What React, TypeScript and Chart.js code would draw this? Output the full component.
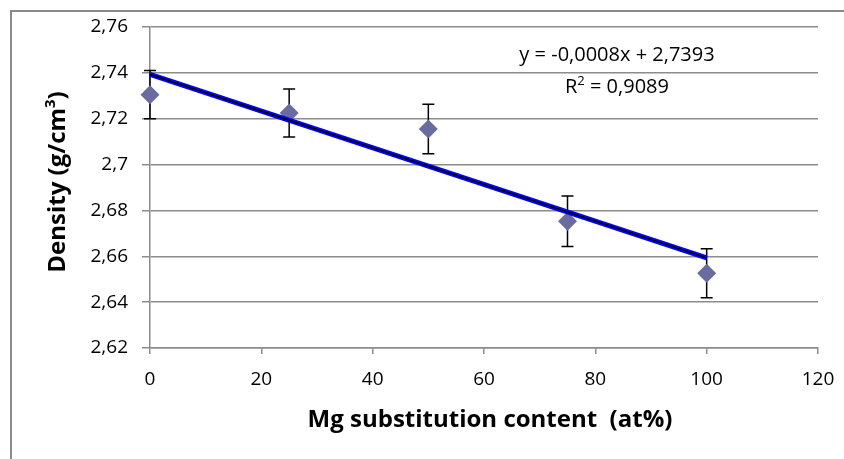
import { useEffect, useRef } from "react";
import { Chart, registerables } from "chart.js";

Chart.register(...registerables);

// Measured density versus Mg substitution level
const mgContent = [0, 25, 50, 75, 100];
const density = [2.7305, 2.7225, 2.7155, 2.6753, 2.6526];
const densityError = [0.0105, 0.0105, 0.0108, 0.011, 0.0107];

// Linear trendline y = a·x + b
const trendSlope = -0.0008;
const trendIntercept = 2.7393;
const trendRange = [0, 100];

const xTickValues = [0, 20, 40, 60, 80, 100, 120];
const yTickValues = [2.62, 2.64, 2.66, 2.68, 2.7, 2.72, 2.74, 2.76];

const equationLabel = "y = -0,0008x + 2,7393";
const rSquaredValue = "0,9089";
const xTitle = "Mg substitution content  (at%)";
const yTitleMain = "Density (g/cm";

const FONT = '"Open Sans", sans-serif';
const GRID = "#8c8c8c";
const MARKER = "#6a6c9f";

const fmt = (v: number) => String(Number(v.toFixed(2))).replace(".", ",");

const errorBars = {
  id: "errorBars",
  beforeDatasetsDraw(chart: any) {
    const { ctx, scales } = chart;
    const x = scales.x;
    const y = scales.y;
    ctx.save();
    ctx.strokeStyle = "#000";
    ctx.lineWidth = 1.5;
    mgContent.forEach((m, i) => {
      const px = x.getPixelForValue(m);
      const top = y.getPixelForValue(density[i] + densityError[i]);
      const bot = y.getPixelForValue(density[i] - densityError[i]);
      ctx.beginPath();
      ctx.moveTo(px, top);
      ctx.lineTo(px, bot);
      ctx.moveTo(px - 6, top);
      ctx.lineTo(px + 6, top);
      ctx.moveTo(px - 6, bot);
      ctx.lineTo(px + 6, bot);
      ctx.stroke();
    });
    ctx.restore();
  },
};

const decorations = {
  id: "decorations",
  afterDraw(chart: any) {
    const { ctx, chartArea } = chart;
    ctx.save();

    // outer chart frame
    ctx.strokeStyle = "#8a8a8a";
    ctx.lineWidth = 2;
    ctx.strokeRect(11, 11, 1000, 1000);

    ctx.fillStyle = "#000";
    ctx.textBaseline = "alphabetic";

    // trendline equation
    ctx.font = `20px ${FONT}`;
    ctx.textAlign = "center";
    const cx = chartArea.right - 201;
    ctx.fillText(equationLabel, cx, chartArea.top + 34);

    // R² label with superscript
    ctx.textAlign = "left";
    const rest = " = " + rSquaredValue;
    ctx.font = `20px ${FONT}`;
    const wR = ctx.measureText("R").width;
    const wRest = ctx.measureText(rest).width;
    ctx.font = `13px ${FONT}`;
    const wSup = ctx.measureText("2").width;
    const total = wR + wSup + wRest;
    let sx = cx - total / 2;
    const by = chartArea.top + 66;
    ctx.font = `20px ${FONT}`;
    ctx.fillText("R", sx, by);
    sx += wR;
    ctx.font = `13px ${FONT}`;
    ctx.fillText("2", sx, by - 8);
    sx += wSup;
    ctx.font = `20px ${FONT}`;
    ctx.fillText(rest, sx, by);

    // x axis title
    ctx.font = `bold 24px ${FONT}`;
    ctx.textAlign = "center";
    ctx.fillText(xTitle, (chartArea.left + chartArea.right) / 2 + 6, 427);

    // y axis title, rotated, with superscript
    ctx.translate(65, 182);
    ctx.rotate(-Math.PI / 2);
    ctx.textAlign = "left";
    ctx.font = `bold 24px ${FONT}`;
    const w1 = ctx.measureText(yTitleMain).width;
    const w3 = ctx.measureText(")").width;
    ctx.font = `bold 15px ${FONT}`;
    const w2 = ctx.measureText("3").width;
    let tx = -(w1 + w2 + w3) / 2;
    ctx.font = `bold 24px ${FONT}`;
    ctx.fillText(yTitleMain, tx, 0);
    tx += w1;
    ctx.font = `bold 15px ${FONT}`;
    ctx.fillText("3", tx, -10);
    tx += w2;
    ctx.font = `bold 24px ${FONT}`;
    ctx.fillText(")", tx, 0);

    ctx.restore();
  },
};

export default function App() {
  const canvasRef = useRef<HTMLCanvasElement | null>(null);

  useEffect(() => {
    const canvas = canvasRef.current;
    if (!canvas) return;

    const points = mgContent.map((m, i) => ({ x: m, y: density[i] }));
    const trend = trendRange.map((m) => ({ x: m, y: trendSlope * m + trendIntercept }));

    const chart = new Chart(canvas, {
      type: "scatter",
      data: {
        datasets: [
          {
            label: "trend core",
            data: trend,
            showLine: true,
            borderColor: "#000000",
            borderWidth: 1.5,
            pointRadius: 0,
            clip: false as any,
          },
          {
            label: "trend",
            data: trend,
            showLine: true,
            borderColor: "#0000ff",
            borderWidth: 5,
            pointRadius: 0,
            clip: false as any,
          },
          {
            label: "density",
            data: points,
            pointStyle: "rectRot",
            pointRadius: 9.5,
            backgroundColor: MARKER,
            borderColor: MARKER,
            borderWidth: 0,
            clip: false as any,
          },
        ],
      },
      options: {
        animation: false,
        responsive: false,
        events: [],
        layout: { padding: { top: 27, right: 26, left: 0, bottom: 0 } },
        plugins: {
          legend: { display: false },
          tooltip: { enabled: false },
        },
        scales: {
          x: {
            type: "linear",
            min: 0,
            max: 120,
            afterBuildTicks: (s: any) => {
              s.ticks = xTickValues.map((v) => ({ value: v }));
            },
            afterFit: (s: any) => {
              s.height = 111;
              s.paddingLeft = 0;
              s.paddingRight = 0;
            },
            grid: {
              drawOnChartArea: false,
              drawTicks: true,
              tickLength: 6,
              color: GRID,
              lineWidth: 1.5,
            },
            border: { color: GRID, width: 1.5 },
            ticks: {
              color: "#000",
              padding: 14,
              font: { family: FONT, size: 19 },
              callback: (v: any) => String(v),
            },
          },
          y: {
            type: "linear",
            min: 2.62,
            max: 2.76,
            afterBuildTicks: (s: any) => {
              s.ticks = yTickValues.map((v) => ({ value: v }));
            },
            afterFit: (s: any) => {
              s.width = 150;
              s.paddingTop = 0;
              s.paddingBottom = 0;
            },
            grid: {
              drawTicks: true,
              tickLength: 8,
              color: GRID,
              lineWidth: 1.5,
            },
            border: { color: GRID, width: 1.5 },
            ticks: {
              color: "#000",
              padding: 14,
              font: { family: FONT, size: 19 },
              callback: (v: any) => fmt(Number(v)),
            },
          },
        },
      },
      plugins: [errorBars, decorations],
    });

    return () => chart.destroy();
  }, []);

  return (
    <div
      style={{
        position: "fixed",
        left: 0,
        top: 0,
        width: 844,
        height: 459,
        background: "#fff",
      }}
    >
      <canvas ref={canvasRef} width={844} height={459} />
    </div>
  );
}
